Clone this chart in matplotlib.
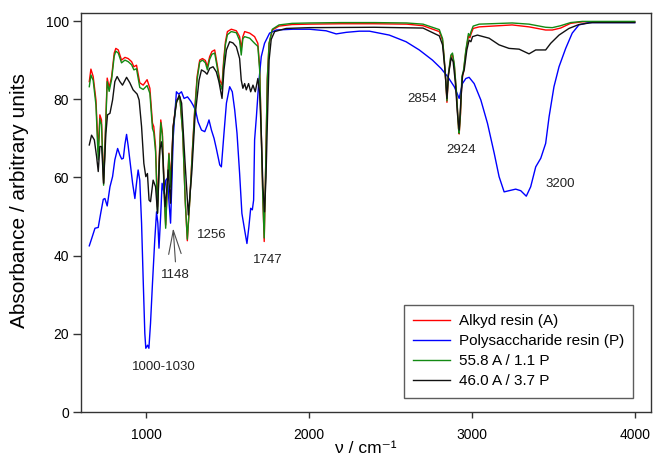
import numpy as np
import matplotlib
matplotlib.use("Agg")
import matplotlib.pyplot as plt

plt.rcParams['font.family'] = ['Liberation Sans', 'DejaVu Sans']

# spectra: wavenumber (cm-1) and absorbance (a.u.)
alkyd_wn = [651, 661, 675, 692, 706, 716, 726, 739, 753, 761, 773, 788, 804, 814, 829, 849, 870, 890,
            911, 925, 941, 961, 982, 1006, 1023, 1039, 1047, 1058, 1070, 1080, 1090, 1100, 1110, 1120,
            1129, 1140, 1150, 1166, 1186, 1207, 1225, 1240, 1253, 1268, 1284, 1298, 1313, 1329, 1346,
            1364, 1376, 1390, 1404, 1421, 1435, 1452, 1466, 1476, 1487, 1499, 1523, 1554, 1574, 1584,
            1594, 1605, 1636, 1666, 1686, 1697, 1707, 1717, 1725, 1734, 1744, 1755, 1775, 1816, 1896,
            2000, 2200, 2400, 2600, 2700, 2800, 2820, 2830, 2840, 2847, 2856, 2871, 2881, 2892, 2906,
            2918, 2922, 2930, 2939, 2949, 2963, 2979, 2988, 2994, 3008, 3045, 3247, 3351, 3453, 3494,
            3545, 3606, 3678, 4000]
alkyd_abs = [84.5, 87.7, 85.8, 79.8, 66.6, 76.0, 74.7, 58.5, 75.5, 85.4, 83.0, 85.7, 91.8, 93.0, 92.6,
             90.0, 90.7, 90.4, 89.6, 88.3, 88.7, 84.2, 83.6, 85.0, 82.8, 73.9, 73.0, 67.9, 52.5, 64.5,
             74.7, 71.3, 57.6, 47.8, 56.8, 66.2, 58.9, 73.0, 79.8, 80.6, 71.3, 54.2, 43.8, 54.2, 67.0,
             77.2, 85.8, 90.0, 90.4, 89.9, 88.3, 90.9, 92.2, 92.6, 89.2, 84.9, 83.6, 90.0, 94.7, 97.3,
             97.9, 97.5, 96.0, 93.0, 96.0, 97.3, 96.9, 96.0, 94.3, 88.3, 71.3, 54.2, 43.6, 62.7, 85.3,
             94.3, 97.7, 98.7, 99.1, 99.2, 99.3, 99.3, 99.2, 98.8, 97.3, 95.1, 90.4, 84.5, 79.2, 86.2,
             90.9, 91.3, 88.7, 81.1, 72.6, 71.1, 76.0, 85.3, 87.0, 92.2, 96.2, 95.7, 96.6, 98.1, 98.5,
             99.0, 98.5, 97.7, 97.7, 98.2, 99.4, 99.8, 99.8]

mix1_abs = [83.2, 86.2, 84.8, 78.5, 64.5, 75.0, 73.5, 58.0, 74.5, 84.5, 82.0, 85.0, 91.0, 92.3, 91.8,
            89.3, 90.0, 89.6, 88.8, 87.5, 87.8, 83.0, 82.5, 83.5, 81.5, 72.5, 71.5, 66.5, 51.0, 63.5,
            74.0, 70.5, 56.5, 47.0, 56.5, 66.0, 57.5, 72.5, 79.5, 80.5, 71.0, 54.0, 44.2, 54.0, 66.5,
            76.5, 85.0, 89.5, 90.0, 89.3, 87.5, 90.2, 91.5, 91.8, 88.5, 84.0, 82.5, 89.0, 94.0, 96.5,
            97.3, 97.0, 95.0, 91.3, 95.5, 96.0, 95.6, 94.3, 93.5, 87.5, 71.0, 54.0, 44.5, 62.5, 85.0,
            94.3, 97.9, 99.0, 99.4, 99.5, 99.6, 99.6, 99.5, 99.2, 97.8, 95.5, 90.5, 84.5, 79.6, 86.5,
            91.3, 91.8, 89.0, 81.5, 72.5, 71.3, 76.5, 85.8, 87.5, 92.6, 96.8, 96.2, 97.2, 98.7, 99.2,
            99.5, 99.2, 98.4, 98.3, 98.8, 99.6, 99.9, 99.9]

poly_wn = [651, 666, 686, 706, 721, 737, 747, 761, 778, 794, 808, 825, 839, 850, 860, 870, 880, 890,
           900, 917, 931, 941, 951, 961, 972, 982, 992, 998, 1009, 1017, 1027, 1039, 1053, 1064, 1072,
           1079, 1090, 1098, 1110, 1121, 1131, 1139, 1150, 1159, 1166, 1176, 1186, 1200, 1217, 1233,
           1254, 1274, 1288, 1303, 1319, 1340, 1360, 1376, 1386, 1401, 1417, 1431, 1452, 1462, 1478,
           1493, 1513, 1529, 1544, 1558, 1574, 1588, 1605, 1619, 1631, 1642, 1652, 1660, 1666, 1677,
           1691, 1707, 1727, 1758, 1799, 1901, 2003, 2105, 2167, 2228, 2309, 2371, 2493, 2596, 2677,
           2758, 2810, 2851, 2892, 2922, 2942, 2963, 2983, 3014, 3055, 3096, 3137, 3167, 3198, 3228,
           3269, 3300, 3334, 3361, 3392, 3423, 3453, 3474, 3504, 3535, 3576, 3616, 3657, 3719, 4000]
poly_abs = [42.5, 44.4, 47.0, 47.2, 50.8, 54.4, 54.6, 52.7, 57.6, 60.2, 64.5, 67.4, 65.7, 64.7, 64.9,
            68.5, 71.0, 68.0, 64.5, 58.5, 54.6, 58.5, 61.9, 59.3, 48.3, 33.8, 20.1, 16.3, 17.1, 16.3,
            22.7, 32.9, 44.0, 51.2, 48.3, 41.9, 50.8, 58.5, 55.9, 59.3, 59.8, 54.6, 48.3, 60.0, 70.0,
            76.0, 81.9, 81.3, 81.9, 80.2, 80.6, 79.5, 78.5, 77.2, 74.2, 72.1, 71.7, 73.4, 74.7, 72.1,
            70.0, 67.4, 63.2, 62.7, 71.3, 79.0, 83.2, 81.9, 77.2, 71.3, 61.0, 50.8, 46.5, 43.1, 47.4,
            52.1, 51.7, 54.2, 69.6, 75.5, 84.0, 90.9, 94.3, 96.9, 97.7, 97.9, 97.9, 97.5, 96.7, 97.1,
            97.4, 97.4, 96.4, 94.7, 92.6, 90.0, 87.9, 85.8, 83.2, 80.2, 84.0, 85.3, 85.6, 84.0, 79.8,
            73.8, 66.2, 60.2, 56.3, 56.6, 57.0, 56.6, 55.2, 57.6, 62.7, 64.9, 68.7, 75.5, 83.2, 88.3,
            93.0, 96.9, 99.0, 99.6, 99.6]

mix2_wn = [651, 665, 682, 696, 706, 716, 727, 739, 753, 763, 778, 794, 808, 822, 839, 855, 880, 900,
           920, 945, 957, 972, 986, 998, 1008, 1018, 1027, 1043, 1058, 1070, 1084, 1094, 1104, 1116,
           1125, 1135, 1150, 1166, 1186, 1203, 1218, 1238, 1259, 1280, 1300, 1325, 1340, 1360, 1374,
           1390, 1411, 1431, 1447, 1466, 1478, 1493, 1513, 1533, 1554, 1574, 1584, 1594, 1605, 1615,
           1629, 1642, 1656, 1670, 1686, 1697, 1707, 1717, 1727, 1736, 1745, 1755, 1768, 1789, 1860,
           2000, 2400, 2700, 2800, 2820, 2834, 2847, 2856, 2873, 2885, 2898, 2912, 2922, 2933, 2943,
           2953, 2969, 2983, 2994, 3004, 3034, 3106, 3167, 3228, 3290, 3351, 3392, 3453, 3484, 3535,
           3596, 3657, 3739, 4000]
mix2_abs = [68.3, 70.8, 69.6, 65.3, 61.5, 67.9, 67.9, 58.5, 71.3, 76.0, 76.4, 79.8, 84.5, 85.8, 84.5,
            83.6, 85.6, 84.2, 82.4, 81.3, 79.8, 73.0, 63.6, 60.2, 61.0, 54.2, 53.8, 59.3, 57.6, 50.8,
            67.0, 69.1, 64.5, 52.5, 55.9, 61.9, 53.4, 73.0, 79.0, 81.1, 79.0, 64.5, 50.4, 61.0, 75.5,
            84.9, 87.5, 87.0, 86.4, 87.9, 88.3, 87.0, 84.5, 80.2, 87.5, 92.6, 94.7, 94.4, 93.4, 90.4,
            84.9, 82.8, 84.0, 82.4, 84.0, 81.9, 83.6, 81.9, 85.3, 81.5, 71.3, 57.6, 51.2, 60.0, 75.0,
            90.0, 95.3, 97.3, 98.1, 98.3, 98.4, 98.2, 96.2, 93.9, 87.9, 80.2, 86.2, 90.6, 89.6, 84.5,
            76.0, 72.1, 80.2, 86.2, 87.5, 92.6, 95.1, 94.7, 96.0, 96.4, 95.6, 93.9, 93.0, 92.8, 91.6,
            92.6, 92.6, 94.3, 96.4, 98.1, 99.1, 99.6, 99.6]

series_names = ['Alkyd resin (A)', 'Polysaccharide resin (P)', '55.8 A / 1.1 P', '46.0 A / 3.7 P']

peak_labels = ['2854', '2924', '3200', '1256', '1747', '1148', '1000-1030']
peak_pos = [(2695, 80.0), (2932, 67.0), (3545, 58.2), (1400, 45.3), (1748, 38.9), (1182, 35.0), (1110, 11.6)]

fig = plt.figure(figsize=(6.53, 4.55), dpi=100)
ax = fig.add_axes([0.124, 0.0945, 0.873, 0.8765])

ax.plot(alkyd_wn, alkyd_abs, color='#ff0000', lw=1.0, label=series_names[0])
ax.plot(poly_wn, poly_abs, color='#0000ff', lw=1.0, label=series_names[1])
ax.plot(alkyd_wn, mix1_abs, color='#138a13', lw=1.0, label=series_names[2])
ax.plot(mix2_wn, mix2_abs, color='#111111', lw=1.0, label=series_names[3])

for txt, (x, y) in zip(peak_labels, peak_pos):
    ax.text(x, y, txt, fontsize=9.5, ha='center', va='center', color='#222222')

# arrow for 1148
ax.annotate('', xy=(1166, 47.0), xytext=(1180, 38.4),
            arrowprops=dict(arrowstyle='->,head_length=1.7,head_width=0.45', color='0.3',
                            lw=0.8, shrinkA=0, shrinkB=0))

ax.set_xlim(600, 4100)
ax.set_ylim(0, 102)
ax.set_xticks([1000, 2000, 3000, 4000])
ax.set_yticks([0, 20, 40, 60, 80, 100])
ax.tick_params(axis='x', direction='out', length=4.5, width=1, pad=7, labelsize=10, color='0.2')
ax.tick_params(axis='y', direction='out', length=5.5, width=1, pad=3, labelsize=10, color='0.2')
for sp in ax.spines.values():
    sp.set_color('0.2')
    sp.set_linewidth(1.0)

ax.set_ylabel('Absorbance / arbitrary units', fontsize=15, labelpad=7)
ax.yaxis.set_label_coords(-0.092, 0.53)
ax.set_xlabel('ν / cm⁻¹', fontsize=12.5, labelpad=-1)

leg = ax.legend(loc='lower right', bbox_to_anchor=(0.969, 0.036), borderaxespad=0,
                fontsize=11, frameon=True, fancybox=False, handlelength=2.4,
                handletextpad=0.6, labelspacing=0.4, borderpad=0.6)
leg.get_frame().set_edgecolor('0.2')
leg.get_frame().set_linewidth(1.0)

fig.savefig('out.png', dpi=100)
